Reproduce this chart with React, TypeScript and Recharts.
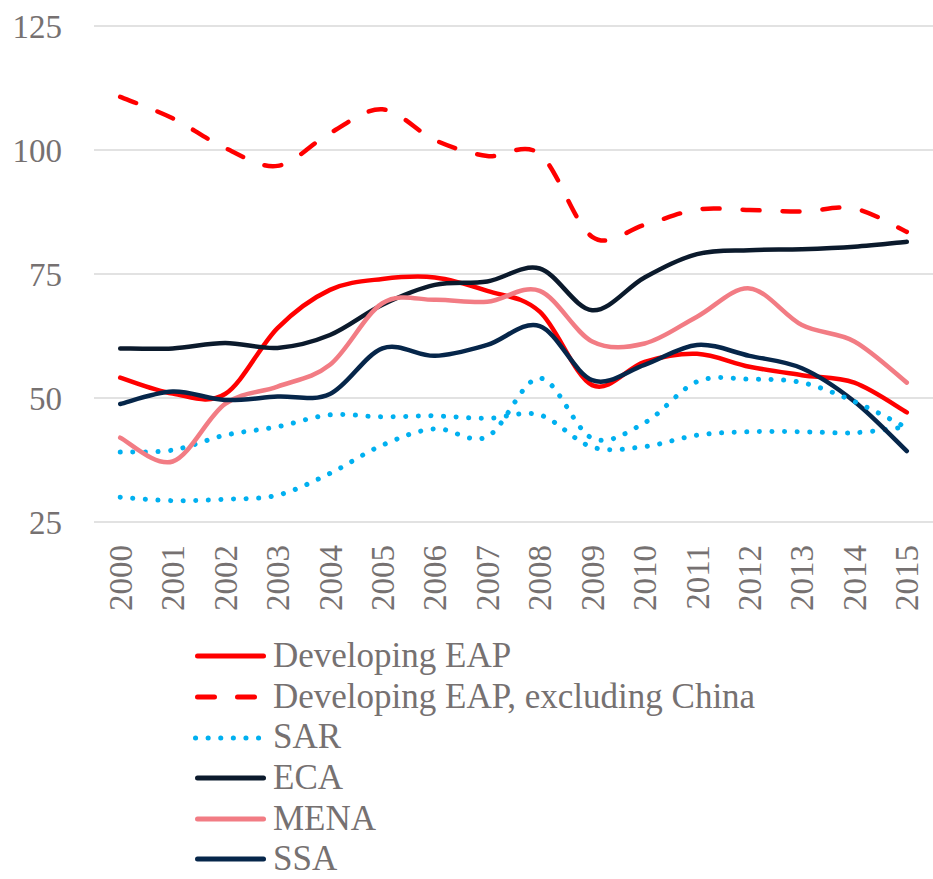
import React from 'react';
import { LineChart, Line, XAxis, YAxis, CartesianGrid, Legend } from 'recharts';

const years = ['2000', '2001', '2002', '2003', '2004', '2005', '2006', '2007', '2008', '2009', '2010', '2011', '2012', '2013', '2014', '2015'];
const developingEap = [54.1, 50.9, 50.8, 64.1, 71.8, 74.0, 74.3, 71.6, 67.4, 52.6, 57.3, 58.9, 56.3, 54.6, 53.1, 47.1];
const eapExChina = [110.7, 106.4, 100.4, 96.8, 103.4, 108.2, 102.0, 98.8, 99.2, 82.5, 84.9, 88.0, 87.9, 87.6, 88.2, 83.5];
const sar = [39.1, 39.5, 42.5, 44.2, 46.6, 46.2, 46.4, 45.9, 46.6, 40.1, 40.2, 42.5, 43.2, 43.2, 43.0, 44.2];
const sarSecond = [30.0, 29.3, 29.6, 30.4, 34.8, 40.5, 43.8, 42.2, 54.0, 41.9, 45.0, 53.3, 53.8, 53.1, 49.3, 44.0];
const eca = [60.0, 60.0, 61.1, 60.1, 62.7, 68.8, 72.8, 73.5, 76.1, 67.7, 74.3, 79.0, 79.8, 80.0, 80.5, 81.5];
const mena = [42.0, 37.2, 48.8, 52.3, 56.7, 69.1, 69.8, 69.4, 71.6, 61.4, 61.0, 66.4, 72.1, 64.7, 61.4, 53.1];
const ssa = [48.8, 51.3, 49.6, 50.3, 50.8, 60.0, 58.5, 60.7, 64.5, 53.6, 56.7, 60.7, 58.5, 56.0, 49.3, 39.3];
const yTicks = [25, 50, 75, 100, 125];

const data = years.map((year, i) => ({
  year,
  eap: developingEap[i],
  eapx: eapExChina[i],
  sar: sar[i],
  sar2: sarSecond[i],
  eca: eca[i],
  mena: mena[i],
  ssa: ssa[i],
}));

const TEXT = '#767171';
const FONT = '"Liberation Serif", serif';
const DOTS = '0.1 12.5';
const DASH = '17 23';

const series = [
  { key: 'eap', name: 'Developing EAP', color: '#FF0000', dash: undefined },
  { key: 'eapx', name: 'Developing EAP, excluding China', color: '#FF0000', dash: DASH },
  { key: 'sar', name: 'SAR', color: '#00B0F0', dash: DOTS },
  { key: 'eca', name: 'ECA', color: '#0B1A2C', dash: undefined },
  { key: 'mena', name: 'MENA', color: '#F27C84', dash: undefined },
  { key: 'ssa', name: 'SSA', color: '#06264A', dash: undefined },
];

// smoothed line like excel (catmull-rom style bezier)
const smoothCurve = (context: any) => {
  let pts: number[][] = [];
  return {
    areaStart() {},
    areaEnd() {},
    lineStart() {
      pts = [];
    },
    point(x: number, y: number) {
      pts.push([+x, +y]);
    },
    lineEnd() {
      const n = pts.length;
      if (!n) return;
      context.moveTo(pts[0][0], pts[0][1]);
      for (let i = 0; i < n - 1; i++) {
        const p0 = pts[Math.max(i - 1, 0)];
        const p1 = pts[i];
        const p2 = pts[i + 1];
        const p3 = pts[Math.min(i + 2, n - 1)];
        context.bezierCurveTo(
          p1[0] + (p2[0] - p0[0]) / 6,
          p1[1] + (p2[1] - p0[1]) / 6,
          p2[0] - (p3[0] - p1[0]) / 6,
          p2[1] - (p3[1] - p1[1]) / 6,
          p2[0],
          p2[1]
        );
      }
    },
  };
};

const YearTick = ({ x, y, payload }: any) => (
  <text
    x={x}
    y={y}
    transform={`rotate(-90 ${x} ${y})`}
    textAnchor="end"
    dy="0.35em"
    fill={TEXT}
    fontSize={33}
    fontFamily={FONT}
  >
    {payload.value}
  </text>
);

const LegendBox = () => (
  <div style={{ fontFamily: FONT, fontSize: 35, color: TEXT }}>
    {series.map((s) => (
      <div key={s.key} style={{ display: 'flex', alignItems: 'center', height: 40.6, whiteSpace: 'nowrap' }}>
        <svg width={80} height={20}>
          <line
            x1={s.dash === DOTS ? 5.5 : 7.5}
            x2={s.dash === DASH ? 67.5 : 73.5}
            y1={10}
            y2={10}
            stroke={s.color}
            strokeWidth={5}
            strokeLinecap="round"
            strokeDasharray={s.dash}
          />
        </svg>
        <span style={{ marginLeft: 3, lineHeight: '40.6px' }}>{s.name}</span>
      </div>
    ))}
  </div>
);

export default function App() {
  return (
    <div style={{ position: 'absolute', left: 0, top: 0, background: '#fff' }}>
      <LineChart width={933} height={879} data={data} margin={{ top: 26, right: 0, left: 0, bottom: 0 }}>
        <CartesianGrid vertical={false} stroke="#D9D9D9" strokeWidth={1.5} />
        <XAxis
          dataKey="year"
          height={357}
          axisLine={false}
          tickLine={false}
          tickSize={0}
          tickMargin={23}
          interval={0}
          padding={{ left: 26.2, right: 26.2 }}
          tick={<YearTick />}
        />
        <YAxis
          width={94}
          domain={[25, 125]}
          ticks={yTicks}
          axisLine={false}
          tickLine={false}
          tickSize={0}
          tickMargin={32}
          tick={{ fill: TEXT, fontSize: 33, fontFamily: FONT }}
        />
        <Legend
          layout="vertical"
          align="center"
          verticalAlign="middle"
          content={<LegendBox />}
          wrapperStyle={{ top: 636.2, left: 190, width: 700, height: 243 }}
        />
        {series.map((s) => (
          <Line
            key={s.key}
            dataKey={s.key}
            name={s.name}
            type={smoothCurve as any}
            stroke={s.color}
            strokeWidth={s.dash === DOTS ? 5 : 4.5}
            strokeDasharray={s.dash}
            strokeLinecap="round"
            dot={false}
            activeDot={false}
            isAnimationActive={false}
          />
        ))}
        <Line
          dataKey="sar2"
          name="SAR (2)"
          legendType="none"
          type={smoothCurve as any}
          stroke="#00B0F0"
          strokeWidth={5}
          strokeDasharray={DOTS}
          strokeLinecap="round"
          dot={false}
          activeDot={false}
          isAnimationActive={false}
        />
      </LineChart>
    </div>
  );
}
